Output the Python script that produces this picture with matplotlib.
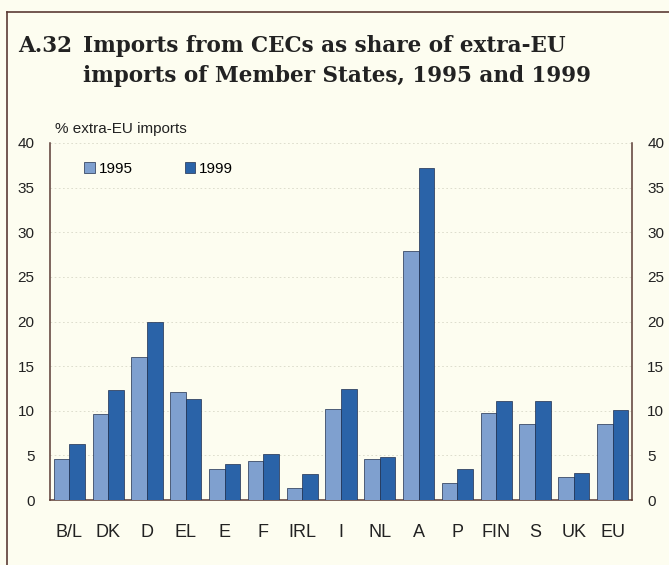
import matplotlib
matplotlib.use("Agg")
import matplotlib.pyplot as plt
import numpy as np
from matplotlib.lines import Line2D
from matplotlib.patches import Patch

categories = ["B/L", "DK", "D", "EL", "E", "F", "IRL", "I", "NL", "A", "P", "FIN", "S", "UK", "EU"]
values_1995 = [4.6, 9.6, 16.0, 12.1, 3.5, 4.4, 1.4, 10.2, 4.6, 27.9, 1.9, 9.8, 8.5, 2.6, 8.5]
values_1999 = [6.3, 12.3, 19.9, 11.3, 4.0, 5.2, 2.9, 12.4, 4.8, 37.2, 3.5, 11.1, 11.1, 3.0, 10.1]
series_labels = ["1995", "1999"]
yticks = [0, 5, 10, 15, 20, 25, 30, 35, 40]

bg = "#fdfdf0"
c95 = "#7fa0cf"
c99 = "#2a63a8"
edge = "#1f2f4f"
brown = "#5b3b35"
txt = "#222222"

plt.rcParams["font.family"] = ["Liberation Sans", "DejaVu Sans"]

fig = plt.figure(figsize=(6.69, 5.65), dpi=100, facecolor=bg)

# frame lines
fig.add_artist(Line2D([7/669, 7/669], [0, 1 - 12/565], transform=fig.transFigure, color=brown, lw=1.2))
fig.add_artist(Line2D([7/669, 1], [1 - 12/565, 1 - 12/565], transform=fig.transFigure, color=brown, lw=1.2))

serif = ["DejaVu Serif", "Liberation Serif"]
fig.text(18/669, 1 - 46/565, "A.32", fontsize=15.5, fontweight="bold",
         family=serif, color=txt, va="center")
fig.text(83/669, 1 - 46/565, "Imports from CECs as share of extra-EU", fontsize=15.5,
         fontweight="bold", family=serif, color=txt, va="center")
fig.text(83/669, 1 - 76/565, "imports of Member States, 1995 and 1999", fontsize=15.5,
         fontweight="bold", family=serif, color=txt, va="center")

ax = fig.add_axes([50/669, 1 - 500/565, (632 - 50)/669, (500 - 143)/565])
ax.set_facecolor(bg)
x = np.arange(len(categories))
w = 0.4
ax.bar(x - w/2, values_1995, w, color=c95, edgecolor=edge, linewidth=0.5, zorder=3)
ax.bar(x + w/2, values_1999, w, color=c99, edgecolor=edge, linewidth=0.5, zorder=3)

ax.set_xlim(-0.5, len(categories) - 0.5)
ax.set_ylim(0, 40)
ax.set_yticks(yticks)
ax.set_xticks(x)
ax.set_xticklabels(categories, fontsize=13, color=txt)
ax.tick_params(axis="x", length=0, pad=17)
ax.tick_params(axis="y", length=0, labelsize=11, colors=txt, pad=11,
               labelleft=True, labelright=True)
ax.yaxis.grid(True, linestyle=(0, (2, 3)), color="#d8d8c8", linewidth=0.6, zorder=0)

ax.spines["top"].set_visible(False)
for s in ["left", "right", "bottom"]:
    ax.spines[s].set_color(brown)
    ax.spines[s].set_linewidth(1.1)

ax.text(5/582, 1.02, "% extra-EU imports", transform=ax.transAxes, fontsize=11,
        color=txt, ha="left", va="bottom")

handles = [Patch(facecolor=c95, edgecolor=edge, linewidth=0.5, label=series_labels[0]),
           Patch(facecolor=c99, edgecolor=edge, linewidth=0.5, label=series_labels[1])]
ax.legend(handles=handles, loc="upper left", bbox_to_anchor=(0.035, 0.985), ncol=2,
          frameon=False, fontsize=11, handlelength=0.7, handleheight=0.7,
          handletextpad=0.25, columnspacing=3.4)

fig.savefig("out.png", dpi=100, facecolor=bg)
